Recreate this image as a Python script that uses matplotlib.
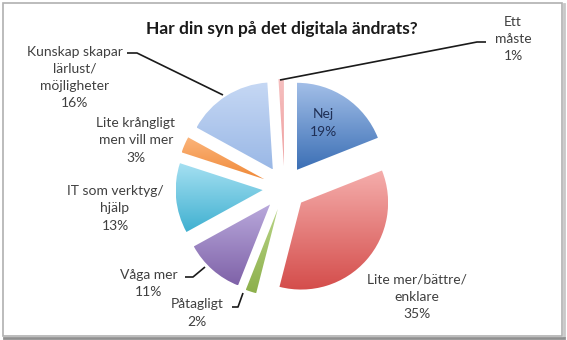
import numpy as np
import matplotlib
matplotlib.use("Agg")
import matplotlib.pyplot as plt
from matplotlib.patches import Rectangle
from matplotlib.colors import LinearSegmentedColormap

# ---- data ----
title = "Har din syn på det digitala ändrats?"
categories = ["Nej", "Lite mer/bättre/\nenklare", "Påtagligt", "Våga mer",
              "IT som verktyg/\nhjälp", "Lite krångligt\nmen vill mer",
              "Kunskap skapar\nlärlust/\nmöjligheter", "Ett\nmåste"]
values = [19, 35, 2, 11, 13, 3, 16, 1]

# ---- style ----
W, H = 567, 340
top_colors = ['#a3bfe8', '#f5aeac', '#b8d486', '#b9a9dc', '#a6e0f2', '#fbb47a', '#c6d8f4', '#f6c0c0']
bot_colors = ['#3b6fb5', '#d44d4b', '#8db04c', '#7f62a8', '#3fb0d0', '#f08a3a', '#9ab8e6', '#ee9c9c']
# label centres in pixel coords (x, y from top)
label_pos = [(323, 123), (417, 297), (197, 313), (149, 283.5), (115, 208.5),
             (136, 140.5), (75, 77.5), (513, 39)]
label_colors = ['#1f2f55'] + ['#404040'] * 7
leaders = {
    2: [(232, 307), (238, 307), (243, 293)],
    3: [(185, 277), (193, 277), (205, 267)],
    6: [(127, 53), (137, 53), (223, 95)],
    7: [(486, 42), (477, 42), (280, 80)],
}
center_px = (284.6, 188)
radius = 87
explode_dist = 22

plt.rcParams['font.family'] = ['Lato', 'DejaVu Sans']

fig = plt.figure(figsize=(W / 100, H / 100), dpi=100)
ax = fig.add_axes([0, 0, 1, 1])

wedges, _ = ax.pie(values, explode=[explode_dist] * len(values), radius=radius,
                   center=(center_px[0], H - center_px[1]), startangle=90,
                   counterclock=False, frame=False)
ax.set_xlim(0, W)
ax.set_ylim(0, H)
ax.set_aspect('equal')
ax.axis('off')

# gradient fill for each wedge
for w, c1, c2 in zip(wedges, top_colors, bot_colors):
    w.set_facecolor('none')
    w.set_edgecolor('none')
    bb = w.get_path().get_extents(w.get_transform())
    inv = ax.transData.inverted()
    (x0, y0), (x1, y1) = inv.transform([(bb.x0, bb.y0), (bb.x1, bb.y1)])
    cmap = LinearSegmentedColormap.from_list('g', [c2, c1])
    grad = np.linspace(0, 1, 256).reshape(-1, 1)
    im = ax.imshow(grad, cmap=cmap, extent=(x0, x1, y0, y1), origin='lower',
                   aspect='auto', zorder=1, interpolation='bilinear')
    im.set_clip_path(w)

ax.set_xlim(0, W)
ax.set_ylim(0, H)

# labels
for i, (lab, v) in enumerate(zip(categories, values)):
    x, y = label_pos[i]
    ax.text(x, H - y, f"{lab}\n{v}%", ha='center', va='center', fontsize=10,
            color=label_colors[i], linespacing=1.52, zorder=5)

# leader lines
for i, pts in leaders.items():
    xs = [p[0] for p in pts]
    ys = [H - p[1] for p in pts]
    ax.plot(xs, ys, color='#1a1a1a', lw=1.2, zorder=4, solid_capstyle='butt')

# title
ax.text(282, H - 29, title, ha='center', va='center', fontsize=12.5,
        fontweight='bold', color='#1a1a1a', zorder=5)

# frame
ax.add_patch(Rectangle((2.5, H - 336), 559, 333.5, fill=False, edgecolor='#b0b0b0', lw=1.2, zorder=6))
ax.plot([563.5, 563.5], [H - 336, H - 4], color='#c8c8c8', lw=2, zorder=6)
ax.plot([4, 564], [H - 338, H - 338], color='#909090', lw=2, zorder=6)

fig.savefig('out.png', dpi=100)
